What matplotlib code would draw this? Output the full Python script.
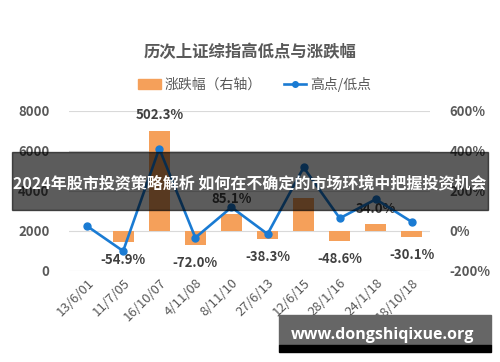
import matplotlib
matplotlib.use("Agg")
import matplotlib.pyplot as plt
from matplotlib.patches import Rectangle

plt.rcParams['font.family'] = ['Noto Sans CJK SC', 'DejaVu Sans']

# data
dates = ['13/6/01', '11/7/05', '16/10/07', '4/11/08', '8/11/10',
         '27/6/13', '12/6/15', '28/1/16', '24/1/18', '18/10/18']
index_pts = [2245, 998, 6124, 1664, 3186, 1849, 5178, 2638, 3587, 2449]
change_pct = [None, -54.9, 502.3, -72.0, 85.1, -38.3, 165.0, -48.6, 34.0, -30.1]
change_lbl = [None, '-54.9%', '502.3%', '-72.0%', '85.1%', '-38.3%', None,
              '-48.6%', '34.0%', '-30.1%']
left_ticks = [0, 2000, 4000, 6000, 8000]
right_ticks = [-200, 0, 200, 400, 600]

title = '历次上证综指高低点与涨跌幅'
banner = '2024年股市投资策略解析 如何在不确定的市场环境中把握投资机会'
site = 'www.dongshiqixue.org'

GRAY = '#595959'
ORANGE = '#F5A05A'
BLUE = '#1A7BD3'

fig = plt.figure(figsize=(5, 3.62), dpi=100)
ax = fig.add_axes([0.138, 0.2514, 0.722, 0.442])
ax2 = ax.twinx()

x = list(range(len(dates)))

# bars on the right axis
bx = [i for i, v in zip(x, change_pct) if v is not None]
bv = [v for v in change_pct if v is not None]
ax2.bar(bx, bv, width=0.58, color=ORANGE, zorder=2)
for i, v, lbl in zip(x, change_pct, change_lbl):
    if lbl is None:
        continue
    off = 11 if v > 0 else -13
    ax2.annotate(lbl, (i, v), xytext=(0, off), textcoords='offset points',
                 ha='center', va='center', fontsize=9.5, fontweight='bold',
                 color='#404040')

ax2.set_ylim(-200, 600)
ax2.set_yticks(right_ticks)
ax2.set_yticklabels([f'{t}%' for t in right_ticks])

# line on the left axis, drawn on top
ax.set_zorder(ax2.get_zorder() + 1)
ax.patch.set_visible(False)
ax.plot(x, index_pts, color=BLUE, lw=1.9, marker='o', ms=5, zorder=3)
ax.set_ylim(0, 8000)
ax.set_yticks(left_ticks)
ax.set_xlim(-0.5, len(dates) - 0.5)
ax.set_xticks(x)
ax.set_xticklabels(dates, rotation=45, ha='right', rotation_mode='anchor')

# gridlines follow the left axis ticks
for t in left_ticks:
    ax2.axhline((t - 2000) / 10, color='#d9d9d9', lw=0.8, zorder=0)

for a in (ax, ax2):
    for s in a.spines.values():
        s.set_visible(False)
    a.tick_params(length=0, colors=GRAY, labelsize=9.5)
    for lab in a.get_yticklabels():
        lab.set_fontweight('bold')
ax.tick_params(axis='y', pad=14)
ax2.tick_params(axis='y', pad=14)
ax.tick_params(axis='x', pad=4, labelsize=9.5)

fig.text(0.5, 1 - 52 / 362, title, ha='center', va='center', fontsize=11.8,
         fontweight='bold', color=GRAY)

h1 = Rectangle((0, 0), 1, 1, color=ORANGE)
h2, = ax.plot([], [], color=BLUE, lw=1.9, marker='o', ms=4)
fig.legend([h1, h2], ['涨跌幅（右轴）', '高点/低点'], loc='center',
           bbox_to_anchor=(0.51, 1 - 84 / 362), ncol=2, frameon=False,
           fontsize=10, labelcolor=GRAY, handlelength=1.6,
           handletextpad=0.3, columnspacing=1.6)

# banner overlay
fig.patches.append(Rectangle((12 / 500, 1 - 210 / 362), 476 / 500, 58 / 362,
                             transform=fig.transFigure, color='black',
                             alpha=0.64, zorder=10))
fig.text(0.5, 1 - 183 / 362, banner, ha='center', va='center', fontsize=11.5,
         fontweight='bold', color='white', zorder=11)

# watermark box
fig.patches.append(Rectangle((279 / 500, 1 - 345 / 362), 212 / 500, 30 / 362,
                             transform=fig.transFigure, color='#666666',
                             zorder=10))
fig.patches.append(Rectangle((279 / 500, 1 - 352 / 362), 212 / 500, 7 / 362,
                             transform=fig.transFigure, color='black',
                             zorder=10))
fig.text(383 / 500, 1 - 335 / 362, site, ha='center', va='center',
         fontsize=11.5, fontweight='bold', color='white', zorder=11,
         family=['Open Sans', 'DejaVu Sans'])

fig.savefig('out.png', dpi=100)
